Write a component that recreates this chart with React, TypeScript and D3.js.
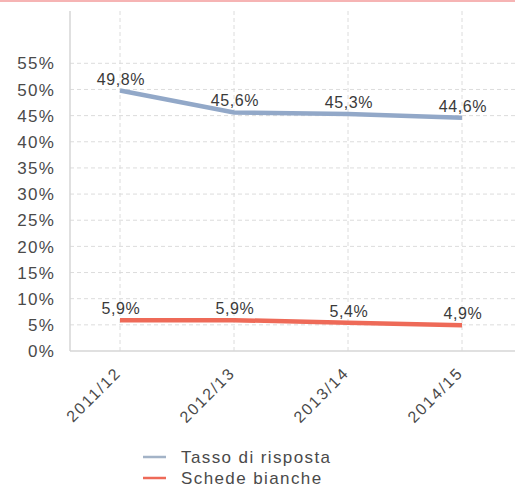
import React from 'react';
import * as d3 from 'd3';

const categories = ['2011/12', '2012/13', '2013/14', '2014/15'];
const tassoRisposta = [49.8, 45.6, 45.3, 44.6];
const schedeBianche = [5.9, 5.9, 5.4, 4.9];
const yTicks = [0, 5, 10, 15, 20, 25, 30, 35, 40, 45, 50, 55];

const series = [
    {name: 'Tasso di risposta', values: tassoRisposta, color: '#92a8c8', legend: '#a3b3c7'},
    {name: 'Schede bianche', values: schedeBianche, color: '#ee6a58', legend: '#ee6a58'},
];

const W = 515;
const H = 488;
const margin = {left: 70, right: 0, top: 11, bottom: 137};
const font = '"Liberation Sans", Arial, sans-serif';

const fmt = (v: number) => v.toFixed(1).replace('.', ',') + '%';

function App() {
    const plotBottom = H - margin.bottom;

    const x = d3.scalePoint<string>()
        .domain(categories)
        .range([120, 462]);

    const y = d3.scaleLinear()
        .domain([0, 65])
        .range([plotBottom, margin.top]);

    const line = d3.line<number>()
        .x((d, i) => x(categories[i]) as number)
        .y(d => y(d));

    return (
        <svg width={W} height={H} style={{position: 'absolute', left: 0, top: 0}}
             fontFamily={font}>
            <rect x={0} y={0} width={W} height={2} fill="#f6b4b4" />

            {/* horizontal grid */}
            {yTicks.map(t => (
                <g key={t}>
                    {t > 0 && (
                        <line x1={margin.left} x2={W} y1={y(t)} y2={y(t)}
                              stroke="#dcdcdc" strokeDasharray="4,3" />
                    )}
                    <text x={55} y={y(t)} dy="0.36em" textAnchor="end"
                          fontSize={17} letterSpacing={1.2} fill="#4a4a4a">{t}%</text>
                </g>
            ))}

            {/* vertical grid */}
            {categories.map(c => (
                <line key={c} x1={x(c)} x2={x(c)} y1={margin.top} y2={plotBottom}
                      stroke="#dcdcdc" strokeDasharray="4,3" />
            ))}

            <line x1={margin.left} x2={margin.left} y1={margin.top} y2={plotBottom}
                  stroke="#d6d6d6" strokeWidth={1.5} />
            <line x1={margin.left} x2={W} y1={plotBottom} y2={plotBottom}
                  stroke="#d6d6d6" strokeWidth={1.5} />

            {series.map(s => (
                <g key={s.name}>
                    <path d={line(s.values) as string} fill="none" stroke={s.color}
                          strokeWidth={4.5} />
                    {s.values.map((v, i) => (
                        <text key={i} x={(x(categories[i]) as number) + 1} y={y(v) - 6}
                              textAnchor="middle" fontSize={16} letterSpacing={0.6}
                              fill="#3a3a3a">{fmt(v)}</text>
                    ))}
                </g>
            ))}

            {categories.map(c => (
                <text key={c} transform={`translate(${(x(c) as number) + 2},${plotBottom + 23}) rotate(-45)`}
                      textAnchor="end" fontSize={16} letterSpacing={1.8} fill="#4a4a4a">{c}</text>
            ))}

            {series.map((s, i) => (
                <g key={s.name} transform={`translate(143,${457 + i * 21})`}>
                    <line x1={0} x2={23} y1={0} y2={0} stroke={s.legend} strokeWidth={2.5} />
                    <text x={38} y={0} dy="0.36em" fontSize={17} letterSpacing={1.4}
                          fill="#4a4a4a">{s.name}</text>
                </g>
            ))}
        </svg>
    );
}

export default App;
